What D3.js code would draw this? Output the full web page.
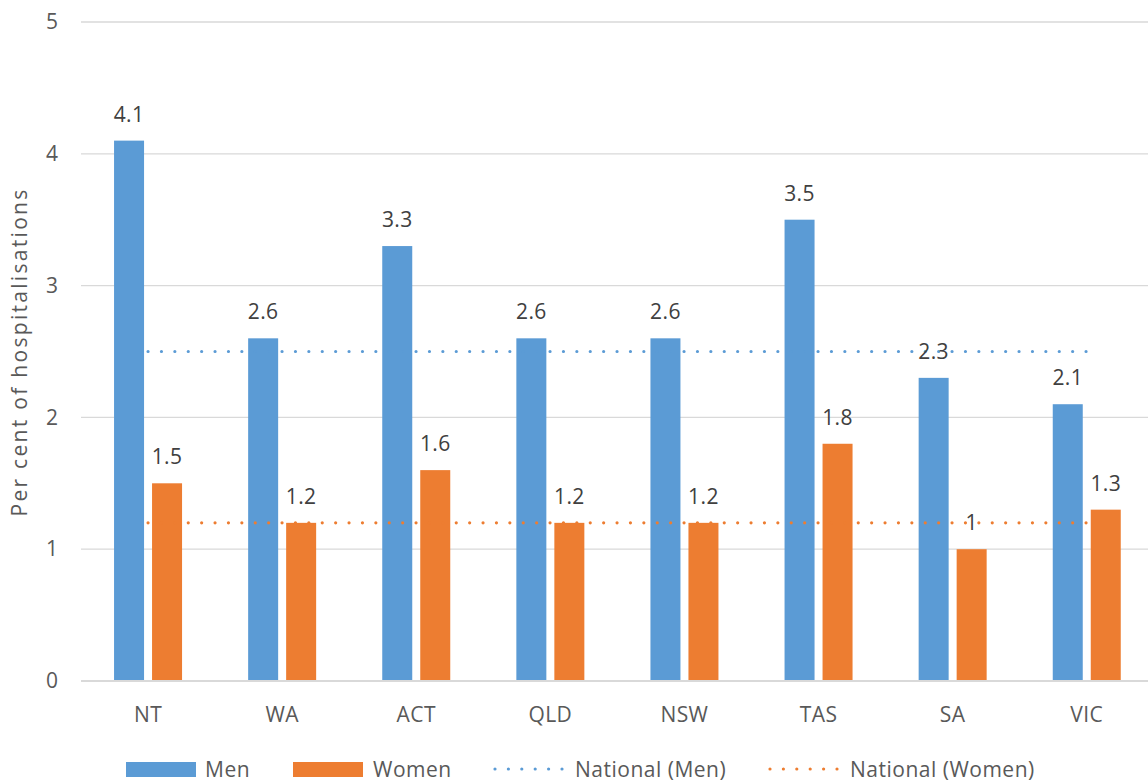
<!DOCTYPE html>
<html>
<head>
<meta charset="utf-8">
<script src="https://cdn.jsdelivr.net/npm/d3@7"></script>
<style>
  html, body { margin: 0; padding: 0; background: #ffffff; }
  svg text { font-family: "Open Sans", Lato, "Liberation Sans", sans-serif; }
</style>
</head>
<body>
<svg id="chart" width="1148" height="781"></svg>
<script>
// Share of hospitalisations by state/territory, men vs women
const categories = ["NT", "WA", "ACT", "QLD", "NSW", "TAS", "SA", "VIC"];
const menValues = [4.1, 2.6, 3.3, 2.6, 2.6, 3.5, 2.3, 2.1];
const womenValues = [1.5, 1.2, 1.6, 1.2, 1.2, 1.8, 1.0, 1.3];
const nationalMen = 2.5;
const nationalWomen = 1.2;
const yTicks = [0, 1, 2, 3, 4, 5];
const seriesNames = ["Men", "Women", "National (Men)", "National (Women)"];

const colors = { men: "#5B9BD5", women: "#ED7D31", grid: "#D9D9D9", tick: "#595959", label: "#404040" };
const fontSize = 21;
const fontFamily = "'Open Sans', Lato, sans-serif";

const svg = d3.select("#chart");
const margin = { left: 81, top: 22 };
const bandW = 134.1;
const plotW = bandW * categories.length;
const y0 = 681;

const x = d3.scaleBand().domain(categories).range([margin.left, margin.left + plotW]);
const y = d3.scaleLinear().domain([0, 5]).range([y0, margin.top]);

const barW = 30, barGap = 8;
const groupOffset = (bandW - (2 * barW + barGap)) / 2;

// gridlines
svg.append("g")
  .selectAll("line")
  .data(yTicks.filter(d => d > 0))
  .join("line")
  .attr("x1", margin.left).attr("x2", margin.left + plotW)
  .attr("y1", d => y(d)).attr("y2", d => y(d))
  .attr("stroke", colors.grid).attr("stroke-width", 1.3);

// y axis labels
const yAxis = d3.axisLeft(y).tickValues(yTicks).tickSize(0).tickPadding(0).tickFormat(d3.format("d"));
const yg = svg.append("g").attr("transform", `translate(${58},0)`).call(yAxis);
yg.select(".domain").remove();
yg.selectAll("text").attr("fill", colors.tick).attr("font-size", fontSize)
  .attr("font-family", fontFamily);

// y axis title
svg.append("text")
  .attr("transform", `translate(27,${352}) rotate(-90)`)
  .attr("text-anchor", "middle")
  .attr("fill", colors.tick)
  .attr("font-size", fontSize)
  .attr("letter-spacing", 2.3)
  .text("Per cent of hospitalisations");

// bars
const bars = svg.append("g");
bars.selectAll("rect.men")
  .data(categories.map((c, i) => ({ c, v: menValues[i] })))
  .join("rect").attr("class", "men")
  .attr("x", d => x(d.c) + groupOffset)
  .attr("y", d => y(d.v))
  .attr("width", barW)
  .attr("height", d => y0 - y(d.v))
  .attr("fill", colors.men);
bars.selectAll("rect.women")
  .data(categories.map((c, i) => ({ c, v: womenValues[i] })))
  .join("rect").attr("class", "women")
  .attr("x", d => x(d.c) + groupOffset + barW + barGap)
  .attr("y", d => y(d.v))
  .attr("width", barW)
  .attr("height", d => y0 - y(d.v))
  .attr("fill", colors.women);

// x axis line
svg.append("line")
  .attr("x1", margin.left).attr("x2", margin.left + plotW)
  .attr("y1", y0).attr("y2", y0)
  .attr("stroke", colors.grid).attr("stroke-width", 2);

// x axis labels
const xAxis = d3.axisBottom(x).tickSize(0).tickPadding(0);
const xg = svg.append("g").attr("transform", `translate(0,${y0 + 26})`).call(xAxis);
xg.select(".domain").remove();
xg.selectAll("text").attr("fill", colors.tick).attr("font-size", fontSize)
  .attr("font-family", fontFamily).attr("letter-spacing", 0.4);

// national reference lines (dotted, from first to last category centre)
const xc = c => x(c) + bandW / 2;
const dotted = (val, col) => svg.append("line")
  .attr("x1", xc(categories[0])).attr("x2", xc(categories[categories.length - 1]))
  .attr("y1", y(val)).attr("y2", y(val))
  .attr("stroke", col).attr("stroke-width", 3.2)
  .attr("stroke-linecap", "round")
  .attr("stroke-dasharray", "0 13.4");
dotted(nationalMen, colors.men);
dotted(nationalWomen, colors.women);

// value labels
const labels = svg.append("g").attr("fill", colors.label).attr("font-size", fontSize)
  .attr("text-anchor", "middle").attr("letter-spacing", 0.4);
labels.selectAll("text.m")
  .data(categories.map((c, i) => ({ c, v: menValues[i] })))
  .join("text").attr("class", "m")
  .attr("x", d => x(d.c) + groupOffset + barW / 2)
  .attr("y", d => y(d.v) - 19)
  .text(d => d3.format("")(d.v));
labels.selectAll("text.w")
  .data(categories.map((c, i) => ({ c, v: womenValues[i] })))
  .join("text").attr("class", "w")
  .attr("x", d => x(d.c) + groupOffset + barW + barGap + barW / 2)
  .attr("y", d => y(d.v) - 19)
  .text(d => d3.format("")(d.v));

// legend
const legend = svg.append("g").attr("font-size", fontSize).attr("fill", colors.tick).attr("letter-spacing", 0.5);
const legendY = 769;
const items = [
  { name: seriesNames[0], x: 126, type: "rect", col: colors.men, tx: 205 },
  { name: seriesNames[1], x: 293, type: "rect", col: colors.women, tx: 373 },
  { name: seriesNames[2], x: 495, type: "dot", col: colors.men, tx: 575 },
  { name: seriesNames[3], x: 770, type: "dot", col: colors.women, tx: 850 }
];
items.forEach(it => {
  if (it.type === "rect") {
    legend.append("rect").attr("x", it.x).attr("y", legendY - 7).attr("width", 70).attr("height", 15).attr("fill", it.col);
  } else {
    legend.append("line").attr("x1", it.x).attr("x2", it.x + 67)
      .attr("y1", legendY).attr("y2", legendY)
      .attr("stroke", it.col).attr("stroke-width", 3.2)
      .attr("stroke-linecap", "round").attr("stroke-dasharray", "0 13.4");
  }
  legend.append("text").attr("x", it.tx).attr("y", legendY + 7.5).text(it.name);
});
</script>
</body>
</html>
